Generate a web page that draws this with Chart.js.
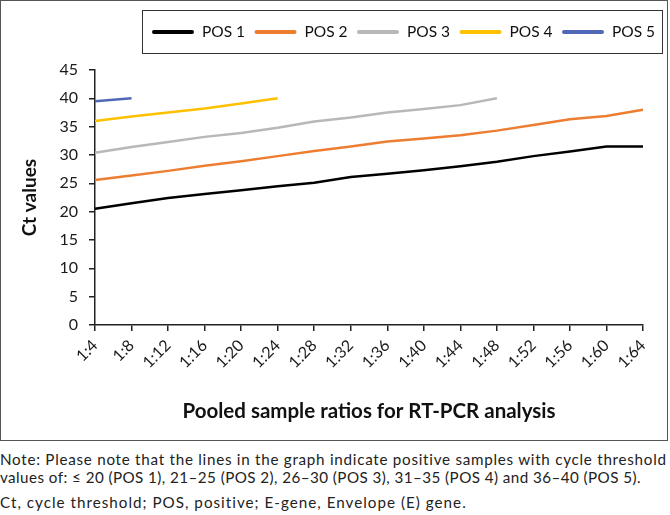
<!DOCTYPE html>
<html>
<head>
<meta charset="utf-8">
<script src="https://cdn.jsdelivr.net/npm/chart.js@4"></script>
<style>
  html, body { margin:0; padding:0; background:#fff; }
  body { width:670px; height:515px; position:relative; overflow:hidden; font-family:Lato, sans-serif; }
  #frame { position:absolute; left:0; top:0; width:666px; height:439px; border:1px solid #555; }
  #c { position:absolute; left:0; top:0; }
  .note { position:absolute; left:0; white-space:nowrap; color:#222; font-family:Lato, sans-serif; font-size:15px; }
</style>
</head>
<body>
<div id="frame"><canvas id="c" width="666" height="439"></canvas></div>
<div class="note" id="n1" style="top:450px">Note: Please note that the lines in the graph indicate positive samples with cycle threshold</div>
<div class="note" id="n2" style="top:468px">values of: ≤ 20 (POS 1), 21–25 (POS 2), 26–30 (POS 3), 31–35 (POS 4) and 36–40 (POS 5).</div>
<div class="note" id="n3" style="top:493px">Ct, cycle threshold; POS, positive; E-gene, Envelope (E) gene.</div>
<script>
const categories = ['1:4','1:8','1:12','1:16','1:20','1:24','1:28','1:32','1:36','1:40','1:44','1:48','1:52','1:56','1:60','1:64'];
const seriesNames = ['POS 1','POS 2','POS 3','POS 4','POS 5'];
const pos1 = [20.5, 21.5, 22.4, 23.1, 23.8, 24.5, 25.1, 26.1, 26.7, 27.3, 28.0, 28.8, 29.8, 30.6, 31.5, 31.5];
const pos2 = [25.6, 26.4, 27.2, 28.1, 28.9, 29.8, 30.7, 31.5, 32.4, 32.9, 33.5, 34.3, 35.3, 36.3, 36.9, 38.0];
const pos3 = [30.4, 31.4, 32.3, 33.2, 33.9, 34.8, 35.9, 36.6, 37.5, 38.1, 38.8, 40.0];
const pos4 = [36.0, 36.8, 37.5, 38.2, 39.1, 40.0];
const pos5 = [39.5, 40.0];
const yTicks = [0, 5, 10, 15, 20, 25, 30, 35, 40, 45];

const colors = ['#000000', '#ED7D31', '#B8B8B8', '#FFC000', '#5068B8'];
const allSeries = [pos1, pos2, pos3, pos4, pos5];

// fit note lines to their widths in the reference
(function(){
  const fs = 15.2;
  const targets = { n1: 667, n2: 641, n3: 467 };
  Object.keys(targets).forEach(id => {
    const el = document.getElementById(id);
    el.style.fontSize = fs + 'px';
    const w = el.getBoundingClientRect().width;
    const n = el.textContent.length;
    el.style.letterSpacing = ((targets[id] - w) / n) + 'px';
  });
})();

const boxedLegend = {
  id: 'boxedLegend',
  afterDraw(chart) {
    const ctx = chart.ctx;
    const bx = 141, by = 9, bw = 520, bh = 43;
    ctx.save();
    ctx.strokeStyle = '#333';
    ctx.lineWidth = 1;
    ctx.strokeRect(bx + 0.5, by + 0.5, bw, bh);
    ctx.font = '15.5px Lato, sans-serif';
    ctx.textBaseline = 'middle';
    ctx.fillStyle = '#111';
    const cy = by + bh / 2 + 0.5;
    chart.data.datasets.forEach((ds, i) => {
      const x0 = 151 + i * 102.5;
      ctx.strokeStyle = ds.borderColor;
      ctx.lineWidth = 4;
      ctx.lineCap = 'round';
      ctx.beginPath();
      ctx.moveTo(x0 + 2, cy);
      ctx.lineTo(x0 + 40, cy);
      ctx.stroke();
      ctx.fillText(ds.label, x0 + 50, cy);
    });
    ctx.restore();
  }
};

new Chart(document.getElementById('c'), {
  type: 'line',
  data: {
    labels: categories,
    datasets: allSeries.map((d, i) => ({
      label: seriesNames[i],
      data: d,
      borderColor: colors[i],
      backgroundColor: colors[i],
      borderWidth: 2.5,
      pointRadius: 0,
      tension: 0,
      fill: false
    }))
  },
  options: {
    responsive: false,
    animation: false,
    layout: { padding: { top: 69, left: 10, right: 24, bottom: 10 } },
    plugins: { legend: { display: false }, tooltip: { enabled: false } },
    scales: {
      x: {
        offset: false,
        grid: { display: true, drawOnChartArea: false, drawTicks: true, tickLength: 6, color: '#222', lineWidth: 1.5 },
        border: { display: true, color: '#222', width: 1.5 },
        ticks: { autoSkip: false, maxRotation: 45, minRotation: 45, padding: 5, color: '#1a1a1a', font: { family: 'Lato', size: 16 } },
        title: { display: true, text: 'Pooled sample ratios for RT-PCR analysis', color: '#111', font: { family: 'Lato', size: 20.5, weight: 'bold' }, padding: { top: 0, bottom: 6 } },
        afterFit(scale) { scale.height = 105; }
      },
      y: {
        min: 0, max: 45,
        afterBuildTicks(scale) { scale.ticks = yTicks.map(v => ({ value: v })); },
        grid: { display: true, drawOnChartArea: false, drawTicks: true, tickLength: 6, color: '#222', lineWidth: 1.5 },
        border: { display: true, color: '#222', width: 1.5 },
        ticks: { padding: 11, color: '#1a1a1a', font: { family: 'Lato', size: 16 } },
        title: { display: true, text: 'Ct values', color: '#111', font: { family: 'Lato', size: 19, weight: 'bold' }, padding: { top: 7, bottom: 0 } },
        afterFit(scale) { scale.width = 84; }
      }
    }
  },
  plugins: [boxedLegend]
});
</script>
</body>
</html>
